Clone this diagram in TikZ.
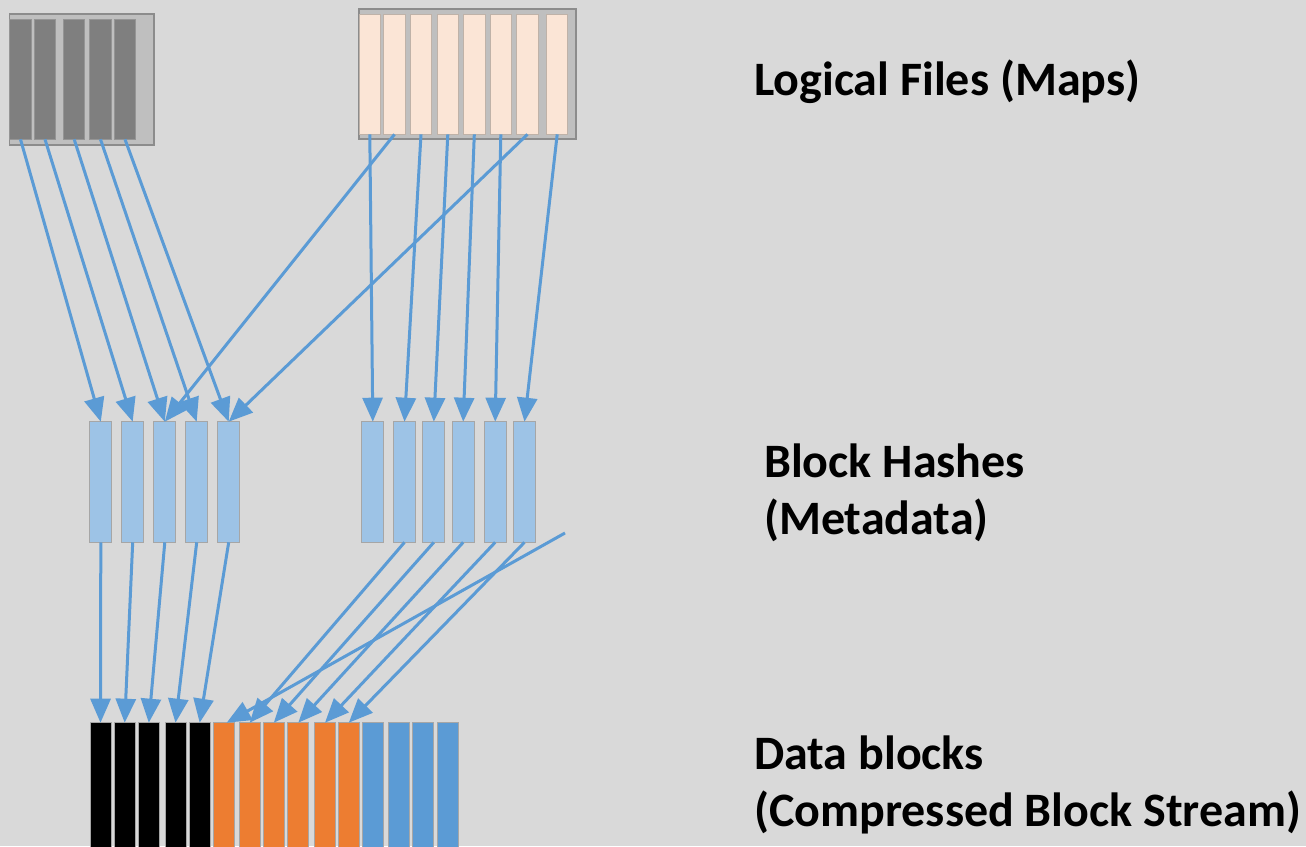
\documentclass[tikz,border=0pt]{standalone}
\usepackage{fontspec}
\setmainfont{Carlito}
\usetikzlibrary{arrows.meta}

\definecolor{bg}{HTML}{D9D9D9}
\definecolor{framegray}{HTML}{BFBFBF}
\definecolor{frameline}{HTML}{8C8C8C}
\definecolor{mapgray}{HTML}{7F7F7F}
\definecolor{mapgrayline}{HTML}{959595}
\definecolor{peach}{HTML}{FBE5D6}
\definecolor{peachline}{HTML}{BFB2A8}
\definecolor{hashblue}{HTML}{9DC3E6}
\definecolor{edgegray}{HTML}{A6A6A6}
\definecolor{arrowblue}{HTML}{5B9BD5}
\definecolor{dataorange}{HTML}{ED7D31}
\definecolor{datablue}{HTML}{5B9BD5}

\begin{document}
\begin{tikzpicture}[x=1bp,y=-1bp,
  cell/.style={rectangle, inner sep=0pt, outer sep=0pt},
  filebox/.style={cell, fill=framegray, draw=frameline, line width=1.5bp},
  mapstrip/.style={cell, fill=mapgray, draw=mapgrayline, line width=1bp,
    minimum width=21.5bp, minimum height=120bp},
  peachstrip/.style={cell, fill=peach, draw=peachline, line width=1bp,
    minimum width=21.5bp, minimum height=120.3bp},
  hashstrip/.style={cell, fill=hashblue, draw=edgegray, line width=1bp,
    minimum width=21.8bp, minimum height=120.6bp},
  datastrip/.style={cell, draw=edgegray, line width=1bp,
    minimum width=21bp, minimum height=140bp},
  conn/.style={draw=arrowblue, line width=3bp,
    -{Triangle[length=24bp,width=20bp]}},
  caption/.style={inner sep=0pt, anchor=base west, align=left,
    font=\fontsize{48bp}{57bp}\selectfont\bfseries}
]
\useasboundingbox (0,0) rectangle (1306,846);
\clip (0,0) rectangle (1306,846);
\fill[bg] (0,0) rectangle (1306,846);

% ---- logical files (maps) ----
\node[filebox, minimum width=144.7bp, minimum height=131bp] (fileA) at (81.65,79.5) {};
\foreach \i/\x in {1/20.5, 2/45, 3/74.2, 4/100.5, 5/125}
  \node[mapstrip] (a\i) at (\x,79.3) {};

\node[filebox, minimum width=217bp, minimum height=130bp] (fileB) at (467.5,74) {};
\foreach \i/\x in {1/369.8, 2/394.5, 3/421, 4/447.8, 5/474.3, 6/500.8, 7/527.5, 8/557.2}
  \node[peachstrip] (b\i) at (\x,74.2) {};

% ---- block hashes ----
\foreach \i/\x in {1/100.8, 2/132.7, 3/164.8, 4/196.7, 5/228.7}
  \node[hashstrip] (h\i) at (\x,482) {};
\foreach \i/\x in {1/372.8, 2/404.5, 3/433.8, 4/463.2, 5/495.2, 6/524.5}
  \node[hashstrip] (g\i) at (\x,482) {};

% ---- data blocks ----
\foreach \i/\x in {1/100.5, 2/124.7, 3/148.8, 4/175.5, 5/199.7}
  \node[datastrip, fill=black] (d\i) at (\x,792.7) {};
\foreach \i/\x in {1/223.7, 2/249.7, 3/273.8, 4/298.3, 5/325, 6/348.8}
  \node[datastrip, fill=dataorange] (o\i) at (\x,792.7) {};
\foreach \i/\x in {1/372.7, 2/399.3, 3/423.3, 4/447.8}
  \node[datastrip, fill=datablue] (u\i) at (\x,792.7) {};

% ---- maps -> hashes ----
\foreach \i in {1,...,5}
  \draw[conn] (a\i.south) -- (h\i.north);
\draw[conn] (b2.south) -- (h3.north);
\draw[conn] (b7.south) -- (h5.north);
\foreach \s/\t in {1/1, 3/2, 4/3, 5/4, 6/5, 8/6}
  \draw[conn] (b\s.south) -- (g\t.north);

% ---- hashes -> data blocks ----
\foreach \i in {1,...,5}
  \draw[conn] (h\i.south) -- (d\i.north);
\foreach \s/\t in {2/2, 3/3, 4/4, 5/5, 6/6}
  \draw[conn] (g\s.south) -- (o\t.north);
\coordinate (loose) at (565,533);
\draw[conn] (loose) -- ([xshift=3bp]o1.north);

% ---- captions (base anchor sits on the last line) ----
\node[caption] (capMaps) at (754,95) {Logical Files (Maps)};
\node[caption] (capHash) at (764,534) {Block Hashes\\(Metadata)};
\node[caption] (capData) at (754,826.5) {Data blocks\\(Compressed Block Stream)};
\end{tikzpicture}
\end{document}
